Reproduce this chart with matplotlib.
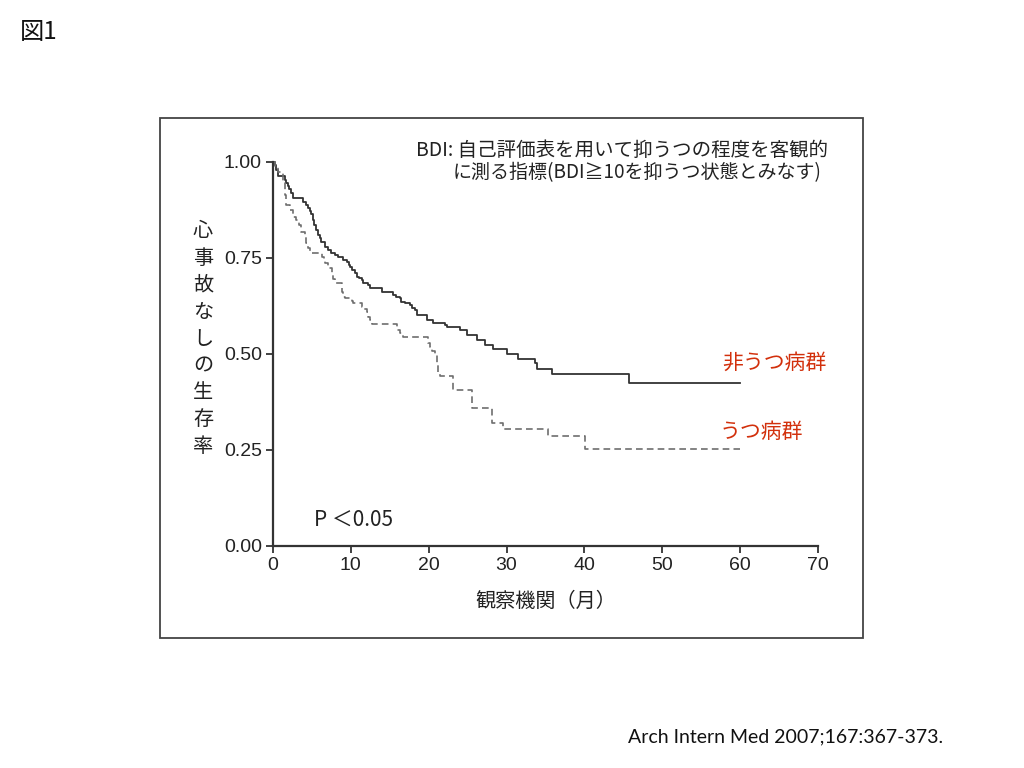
import matplotlib
matplotlib.use("Agg")
import matplotlib.pyplot as plt
from matplotlib.patches import Rectangle

# Kaplan-Meier curves (months, survival after each event)
non_dep_t = [0, 0.26, 0.39, 0.64, 1.5, 1.7, 1.9, 2.1, 2.35, 2.6, 3.85, 4.3, 4.5,
             4.75, 4.9, 5.15, 5.3, 5.55, 5.8, 6.05, 6.2, 6.65, 7.05, 7.5, 7.9,
             8.35, 9.0, 9.45, 9.7, 9.9, 10.1, 10.5, 10.75, 11.05, 11.4, 11.55,
             12.2, 12.45, 13.95, 15.4, 15.8, 16.3, 16.5, 16.95, 17.6, 17.8,
             18.25, 18.45, 19.75, 20.55, 22.1, 22.3, 24.0, 24.9, 26.15, 27.2,
             28.3, 30.0, 31.5, 33.65, 33.9, 35.8, 45.7, 60.0]
non_dep_s = [1.0, 0.992, 0.979, 0.964, 0.953, 0.945, 0.938, 0.930, 0.919, 0.906,
             0.896, 0.888, 0.880, 0.872, 0.865, 0.849, 0.836, 0.823, 0.810,
             0.802, 0.792, 0.779, 0.771, 0.763, 0.758, 0.753, 0.745, 0.740,
             0.732, 0.727, 0.719, 0.711, 0.701, 0.697, 0.693, 0.685, 0.680,
             0.672, 0.661, 0.654, 0.648, 0.645, 0.635, 0.632, 0.628, 0.620,
             0.615, 0.602, 0.589, 0.581, 0.576, 0.571, 0.5625, 0.549, 0.536,
             0.523, 0.513, 0.500, 0.488, 0.477, 0.461, 0.448, 0.4245, 0.4245]

dep_t = [0, 0.26, 0.64, 1.3, 1.5, 1.6, 1.7, 2.15, 2.6, 3.0, 3.4, 3.65, 4.05,
         4.3, 4.5, 4.7, 6.25, 6.5, 6.7, 7.05, 7.55, 7.75, 7.95, 8.8, 8.9, 9.0,
         9.25, 10.1, 10.3, 11.4, 11.7, 12.05, 12.2, 12.45, 12.7, 15.9, 16.3,
         16.7, 19.95, 20.2, 20.4, 20.8, 21.0, 21.2, 21.45, 23.15, 25.5, 28.1,
         29.6, 35.35, 40.05, 60.0]
dep_s = [1.0, 0.99, 0.975, 0.948, 0.932, 0.914, 0.888, 0.876, 0.858, 0.849,
         0.836, 0.818, 0.805, 0.789, 0.776, 0.762, 0.753, 0.745, 0.737, 0.724,
         0.706, 0.695, 0.686, 0.674, 0.661, 0.648, 0.645, 0.638, 0.633, 0.623,
         0.617, 0.610, 0.597, 0.589, 0.577, 0.5625, 0.555, 0.544, 0.529, 0.518,
         0.508, 0.497, 0.471, 0.451, 0.443, 0.406, 0.359, 0.321, 0.305, 0.286,
         0.2526, 0.2526]

x_ticks = [0, 10, 20, 30, 40, 50, 60, 70]
y_ticks = [0.0, 0.25, 0.5, 0.75, 1.0]

RED = '#D2300C'
AX_COLOR = '#333333'
num_font = ['Liberation Sans Narrow', 'Liberation Sans', 'DejaVu Sans']

plt.rcParams['font.family'] = ['Noto Sans CJK JP', 'DejaVu Sans']

fig = plt.figure(figsize=(10.24, 7.68), dpi=100, facecolor='white')

# outer frame around the chart
fig.patches.append(Rectangle((160 / 1024, 1 - 638 / 768), 703 / 1024, 520 / 768,
                             transform=fig.transFigure, fill=False,
                             edgecolor='#444444', linewidth=1.3))

ax = fig.add_axes([273 / 1024, 1 - 546 / 768, 545 / 1024, 384 / 768])
ax.set_facecolor('white')

ax.step(non_dep_t, non_dep_s, where='post', color='#333333', linewidth=1.3,
        clip_on=False)
ax.step(dep_t, dep_s, where='post', color='#6e6e6e', linewidth=1.2,
        linestyle=(0, (4, 2.5)), clip_on=False)

ax.set_xlim(0, 70)
ax.set_ylim(0, 1)
ax.spines['top'].set_visible(False)
ax.spines['right'].set_visible(False)
for side in ['left', 'bottom']:
    ax.spines[side].set_color(AX_COLOR)
    ax.spines[side].set_linewidth(1.6)

ax.set_xticks(x_ticks)
ax.set_yticks(y_ticks)
ax.set_yticklabels([f'{v:.2f}' for v in y_ticks])
ax.tick_params(direction='out', length=5, width=1.3, color=AX_COLOR,
               labelsize=14, labelcolor='#222222', pad=3)
for lab in ax.get_xticklabels() + ax.get_yticklabels():
    lab.set_family(num_font)

ax.set_xlabel('観察機関（月）', fontsize=14.5, labelpad=12, color='#222222')

# vertical stacked y label
fig.text(203 / 1024, 1 - 339 / 768, '\n'.join('心事故なしの生存率'),
         fontsize=14.5, ha='center', va='center', linespacing=1.37,
         color='#222222')

fig.text(416 / 1024, 1 - 150 / 768, 'BDI: 自己評価表を用いて抑うつの程度を客観的',
         fontsize=14, ha='left', va='center', color='#222222')
fig.text(453 / 1024, 1 - 173 / 768, 'に測る指標(BDI≧10を抑うつ状態とみなす)',
         fontsize=13.7, ha='left', va='center', color='#222222')

fig.text(722 / 1024, 1 - 363 / 768, '非うつ病群', fontsize=15, color=RED,
         ha='left', va='center')
fig.text(720 / 1024, 1 - 432 / 768, 'うつ病群', fontsize=15, color=RED,
         ha='left', va='center')

fig.text(314 / 1024, 1 - 520 / 768, 'P ＜0.05', fontsize=15, color='#222222',
         ha='left', va='center')

fig.text(20 / 1024, 1 - 32 / 768, '図1', fontsize=17.5, color='#111111',
         ha='left', va='center')
fig.text(628 / 1024, 1 - 737 / 768, 'Arch Intern Med 2007;167:367-373.',
         fontsize=14, family=['Lato', 'DejaVu Sans'], color='#111111',
         ha='left', va='center')

plt.savefig('out.png', dpi=100, facecolor='white')
